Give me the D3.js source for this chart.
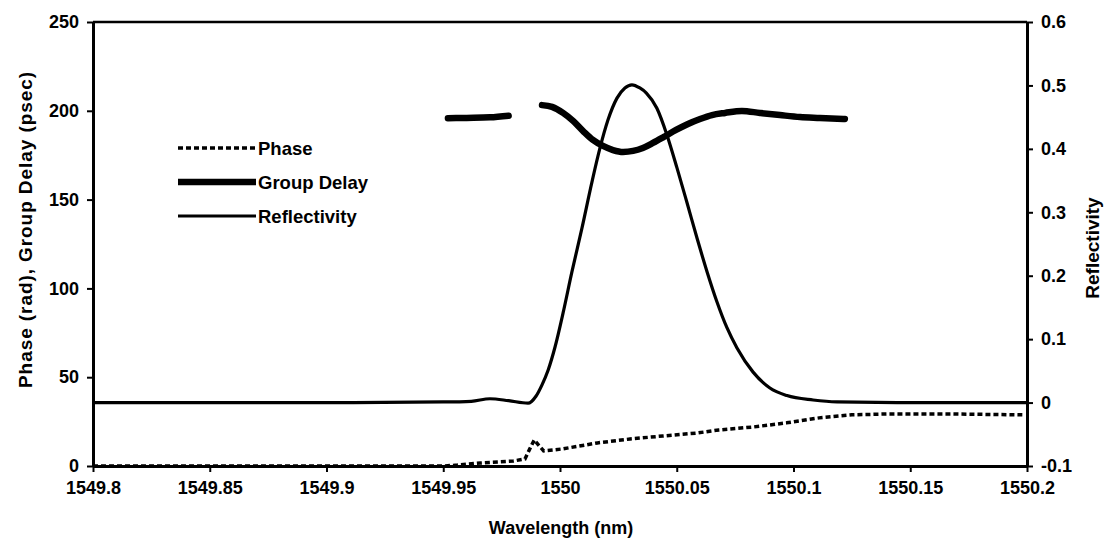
<!DOCTYPE html>
<html>
<head>
<meta charset="utf-8">
<script src="https://cdn.jsdelivr.net/npm/d3@7"></script>
<style>
  html, body { margin: 0; padding: 0; background: #fff; }
  svg text { font-family: "Liberation Sans", Arial, sans-serif; font-weight: bold; fill: #000; }
</style>
</head>
<body>
<svg id="chart" width="1108" height="546"></svg>
<script>
// ---- Data ----
const xTicks = [1549.8, 1549.85, 1549.9, 1549.95, 1550, 1550.05, 1550.1, 1550.15, 1550.2];
const xTickLabels = ["1549.8", "1549.85", "1549.9", "1549.95", "1550", "1550.05", "1550.1", "1550.15", "1550.2"];
const yLeftTicks = [0, 50, 100, 150, 200, 250];
const yLeftTickLabels = ["0", "50", "100", "150", "200", "250"];
const yRightTicks = [-0.1, 0, 0.1, 0.2, 0.3, 0.4, 0.5, 0.6];
const yRightTickLabels = ["-0.1", "0", "0.1", "0.2", "0.3", "0.4", "0.5", "0.6"];

const reflWl = [1549.8, 1549.85, 1549.9, 1549.95, 1549.962, 1549.970, 1549.978, 1549.9863,
  1549.9897, 1549.9923, 1549.9949, 1549.9979, 1550.0013, 1550.0051, 1550.0094, 1550.0137,
  1550.0171, 1550.0205, 1550.0244, 1550.0278, 1550.0308, 1550.0342, 1550.0370, 1550.0415,
  1550.0458, 1550.0501, 1550.0544, 1550.0587, 1550.0630, 1550.0672, 1550.0715, 1550.0758,
  1550.0827, 1550.0899, 1550.0972, 1550.1084, 1550.1186, 1550.15, 1550.2];
const reflVal = [0, 0, 0, 0.001, 0.002, 0.006, 0.003, -0.001,
  0.010, 0.028, 0.051, 0.088, 0.141, 0.206, 0.275, 0.348,
  0.401, 0.445, 0.480, 0.496, 0.501, 0.496, 0.488, 0.464,
  0.422, 0.370, 0.315, 0.259, 0.206, 0.159, 0.118, 0.086,
  0.048, 0.023, 0.011, 0.004, 0.001, 0, 0];

const gd1Wl = [1549.952, 1549.960, 1549.970, 1549.978];
const gd1Val = [195.8, 196.0, 196.3, 197.2];
const gd2Wl = [1549.9923, 1549.9966, 1550.0013, 1550.0056, 1550.0099, 1550.0141, 1550.0184, 1550.0227,
  1550.0270, 1550.0313, 1550.0355, 1550.0398, 1550.0445, 1550.0497, 1550.0548, 1550.0600,
  1550.0651, 1550.0707, 1550.0779, 1550.0856, 1550.0942, 1550.1028, 1550.1113, 1550.1220];
const gd2Val = [203.2, 202.2, 198.8, 194.3, 188.6, 183.6, 180.2, 177.9,
  176.8, 177.4, 179.1, 181.9, 185.3, 189.2, 192.6, 195.4,
  197.6, 198.8, 199.9, 198.8, 197.6, 196.5, 196.0, 195.4];

const phaseWl = [1549.8, 1549.95, 1549.956, 1549.966, 1549.980, 1549.985, 1549.987, 1549.989, 1549.991,
  1549.993, 1550.001, 1550.016, 1550.030, 1550.044, 1550.059, 1550.068, 1550.083, 1550.097,
  1550.111, 1550.125, 1550.140, 1550.168, 1550.198];
const phaseVal = [0, 0, 0.5, 1.7, 2.8, 4.0, 9.5, 14.7, 11.5,
  8.5, 9.6, 13.0, 15.2, 16.9, 18.6, 20.3, 22.0, 24.3,
  27.1, 28.8, 29.3, 29.3, 28.8];

const legendItems = ["Phase", "Group Delay", "Reflectivity"];

// ---- Layout ----
const L = 93, R = 1027, T = 22, B = 466;
const svg = d3.select("#chart");

const x = d3.scaleLinear().domain([1549.8, 1550.2]).range([L, R]);
const yL = d3.scaleLinear().domain([0, 250]).range([B, T]);
const yR = d3.scaleLinear().domain([-0.1, 0.6]).range([B, T]);

const zip = (a, b) => a.map((v, i) => [v, b[i]]);

// top border
svg.append("line").attr("x1", L).attr("x2", R).attr("y1", T).attr("y2", T)
  .attr("stroke", "#000").attr("stroke-width", 2.5);

function styleAxis(g) {
  g.selectAll("path.domain").attr("stroke", "#000").attr("stroke-width", 3);
  g.selectAll(".tick line").attr("stroke", "#000").attr("stroke-width", 2);
  g.selectAll(".tick text").style("font-size", "18px").style("font-weight", "bold")
    .style("font-family", "'Liberation Sans', Arial, sans-serif").attr("fill", "#000");
}

const gx = svg.append("g").attr("transform", `translate(0,${B})`)
  .call(d3.axisBottom(x).tickValues(xTicks).tickSize(6).tickSizeOuter(0).tickPadding(9)
    .tickFormat((d, i) => xTickLabels[i]));
styleAxis(gx);

const gyl = svg.append("g").attr("transform", `translate(${L},0)`)
  .call(d3.axisLeft(yL).tickValues(yLeftTicks).tickSize(6).tickSizeOuter(0).tickPadding(8)
    .tickFormat((d, i) => yLeftTickLabels[i]));
styleAxis(gyl);

const gyr = svg.append("g").attr("transform", `translate(${R},0)`)
  .call(d3.axisRight(yR).tickValues(yRightTicks).tickSize(6).tickSizeOuter(0).tickPadding(8)
    .tickFormat((d, i) => yRightTickLabels[i]));
styleAxis(gyr);

// titles
svg.append("text").attr("x", 561).attr("y", 534).attr("text-anchor", "middle")
  .style("font-size", "18px").text("Wavelength (nm)");
svg.append("text").attr("transform", `translate(25,230) rotate(-90)`).attr("text-anchor", "middle")
  .attr("dominant-baseline", "central").style("font-size", "19px")
  .attr("textLength", 316).attr("lengthAdjust", "spacing").text("Phase (rad), Group Delay (psec)");
svg.append("text").attr("transform", `translate(1092,248) rotate(-90)`).attr("text-anchor", "middle")
  .attr("dominant-baseline", "central").style("font-size", "19px").text("Reflectivity");

// series
const lineR = d3.line().x(d => x(d[0])).y(d => yR(d[1])).curve(d3.curveMonotoneX);
const lineP = d3.line().x(d => x(d[0])).y(d => yL(d[1])).curve(d3.curveLinear);
const lineG = d3.line().x(d => x(d[0])).y(d => yL(d[1])).curve(d3.curveMonotoneX);

svg.append("path").datum(zip(reflWl, reflVal)).attr("d", lineR)
  .attr("fill", "none").attr("stroke", "#000").attr("stroke-width", 3.2);

svg.append("path").datum(zip(phaseWl, phaseVal)).attr("d", lineP)
  .attr("fill", "none").attr("stroke", "#000").attr("stroke-width", 3.5).attr("stroke-dasharray", "5,3");

[[gd1Wl, gd1Val], [gd2Wl, gd2Val]].forEach(([w, v]) => {
  svg.append("path").datum(zip(w, v)).attr("d", lineG)
    .attr("fill", "none").attr("stroke", "#000").attr("stroke-width", 6.5).attr("stroke-linecap", "round");
});

// legend
const legY = [148, 182, 216];
const legStyles = [
  { w: 3.5, dash: "5,3" },
  { w: 6.5, dash: null },
  { w: 3, dash: null }
];
legendItems.forEach((name, i) => {
  const g = svg.append("g");
  g.append("line").attr("x1", 178).attr("x2", 256).attr("y1", legY[i]).attr("y2", legY[i])
    .attr("stroke", "#000").attr("stroke-width", legStyles[i].w)
    .attr("stroke-dasharray", legStyles[i].dash);
  g.append("text").attr("x", 258).attr("y", legY[i]).attr("dominant-baseline", "central")
    .style("font-size", "18.5px").text(name);
});
</script>
</body>
</html>
